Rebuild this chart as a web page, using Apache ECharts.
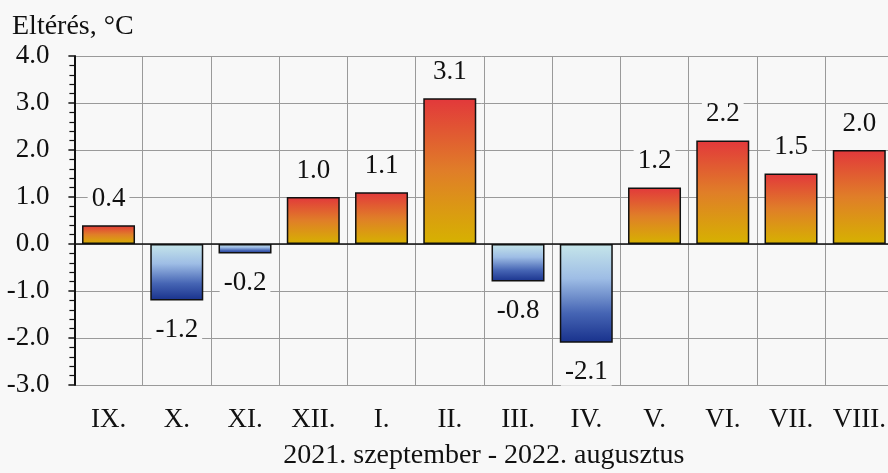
<!DOCTYPE html>
<html>
<head>
<meta charset="utf-8">
<script src="https://cdn.jsdelivr.net/npm/echarts@6/dist/echarts.min.js"></script>
<style>
html,body{margin:0;padding:0;background:#f8f8f8;}
#chart{width:888px;height:473px;}
</style>
</head>
<body>
<div id="chart"></div>
<script>
const categories = ['IX.', 'X.', 'XI.', 'XII.', 'I.', 'II.', 'III.', 'IV.', 'V.', 'VI.', 'VII.', 'VIII.'];
const values = [0.4, -1.2, -0.2, 1.0, 1.1, 3.1, -0.8, -2.1, 1.2, 2.2, 1.5, 2.0];
const yMin = -3, yMax = 4, yStep = 1;
const yTitle = 'Eltérés, °C';
const xTitle = '2021. szeptember - 2022. augusztus';

const FONT = "'Liberation Serif', 'Times New Roman', serif";
const BG = '#f8f8f8';

const posGrad = new echarts.graphic.LinearGradient(0, 0, 0, 1, [
  {offset: 0, color: '#e2383b'},
  {offset: 0.5, color: '#e07e28'},
  {offset: 1, color: '#d6b200'}
]);
const negGrad = new echarts.graphic.LinearGradient(0, 0, 0, 1, [
  {offset: 0, color: '#c6e6ea'},
  {offset: 0.35, color: '#9ebde5'},
  {offset: 0.7, color: '#4665b4'},
  {offset: 1, color: '#18318c'}
]);

const data = values.map(v => ({
  value: v,
  itemStyle: {color: v >= 0 ? posGrad : negGrad},
  label: v >= 0 ? {position: 'top', distance: 13} : {position: 'bottom', distance: 16}
}));

const chart = echarts.init(document.getElementById('chart'), null, {renderer: 'canvas'});
chart.setOption({
  backgroundColor: BG,
  animation: false,
  textStyle: {fontFamily: FONT},
  graphic: [{
    type: 'text', left: 12, top: 13,
    style: {text: yTitle, font: '28px ' + FONT, fill: '#111'}
  }],
  grid: {left: 74.4, top: 56, width: 819, height: 329, containLabel: false, outerBoundsMode: 'none'},
  xAxis: {
    type: 'category',
    data: categories,
    axisLine: {show: false, onZero: false},
    axisTick: {show: false},
    splitLine: {show: true, interval: 0, lineStyle: {color: '#9a9a9a', width: 1}},
    axisLabel: {interval: 0, margin: 21, fontSize: 27, color: '#111', fontFamily: FONT},
    name: xTitle,
    nameLocation: 'middle',
    nameGap: 57,
    nameTextStyle: {fontSize: 28, color: '#111', fontFamily: FONT}
  },
  yAxis: {
    type: 'value',
    min: yMin, max: yMax, interval: yStep,
    axisLine: {show: true, lineStyle: {color: '#111', width: 2}},
    axisTick: {show: true, inside: false, length: 6, lineStyle: {color: '#111', width: 1.5}},
    minorTick: {show: true, splitNumber: 5, length: 5, lineStyle: {color: '#111', width: 1.2}},
    splitLine: {show: true, lineStyle: {color: '#9a9a9a', width: 1}},
    axisLabel: {margin: 25, fontSize: 27, color: '#111', fontFamily: FONT, formatter: v => v.toFixed(1)}
  },
  series: [{
    type: 'bar',
    data: data,
    barWidth: 53,
    itemStyle: {borderColor: '#111', borderWidth: 1.5},
    label: {
      show: true,
      fontSize: 27, color: '#111', fontFamily: FONT,
      backgroundColor: BG, padding: [0, 4],
      formatter: p => p.value.toFixed(1)
    },
    markLine: {
      silent: true, symbol: 'none', label: {show: false},
      lineStyle: {color: '#111', width: 1.5, type: 'solid'},
      data: [{yAxis: 0}]
    }
  }]
});
</script>
</body>
</html>
